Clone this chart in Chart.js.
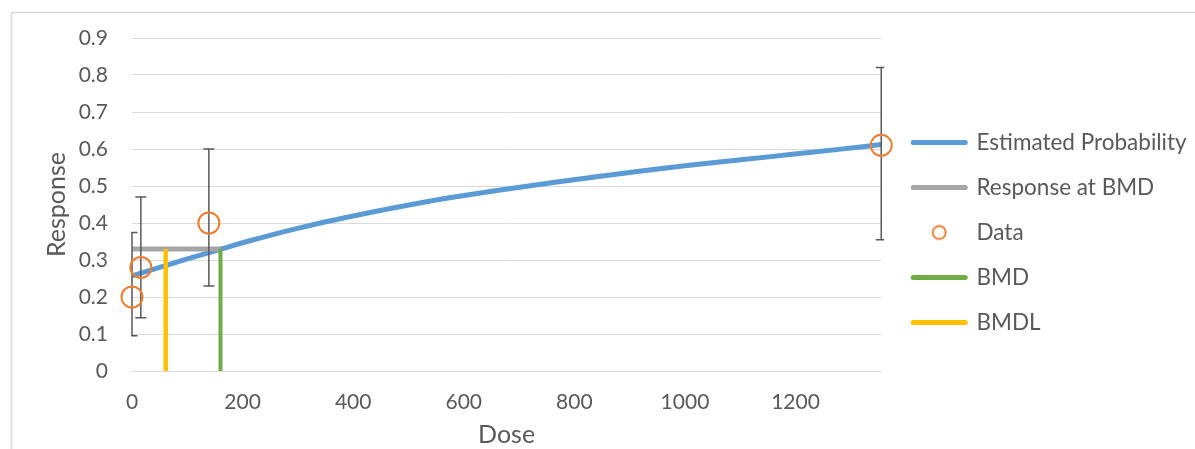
<!DOCTYPE html>
<html>
<head>
<meta charset="utf-8">
<script src="https://cdn.jsdelivr.net/npm/chart.js@4.4.1/dist/chart.umd.min.js"></script>
<style>
  html, body { margin: 0; padding: 0; background: #ffffff; }
  #wrap { position: relative; width: 1195px; height: 449px; }
</style>
</head>
<body>
<div id="wrap"><canvas id="c" width="1195" height="449"></canvas></div>
<script>
// ---- data ----
const curveDose = [0, 50, 100, 160, 213, 303, 400, 484, 574, 660, 755, 850, 917, 1000, 1097, 1190, 1278, 1355];
const curveProb = [0.257, 0.280, 0.303, 0.329, 0.352, 0.387, 0.419, 0.444, 0.468, 0.488, 0.508, 0.527, 0.540, 0.555, 0.570, 0.585, 0.599, 0.612];
const dataDose = [0, 16, 139, 1355];
const dataResp = [0.2, 0.28, 0.4, 0.61];
const errLow = [0.095, 0.144, 0.23, 0.355];
const errHigh = [0.374, 0.47, 0.6, 0.82];
const bmdDose = 160;
const bmdlDose = 61;
const bmdResp = 0.33;
const xTickValues = [0, 200, 400, 600, 800, 1000, 1200];
const yTickValues = [0, 0.1, 0.2, 0.3, 0.4, 0.5, 0.6, 0.7, 0.8, 0.9];
const seriesNames = ['Estimated Probability', 'Response at BMD', 'Data', 'BMD', 'BMDL'];

const FONT = 'Lato';
const TEXT = '#595959';

const curvePts = curveDose.map((d, i) => ({x: d, y: curveProb[i]}));
const dataPts = dataDose.map((d, i) => ({x: d, y: dataResp[i]}));

const circleImg = (function(){
  const cv = document.createElement('canvas');
  cv.width = 20; cv.height = 20;
  const g = cv.getContext('2d');
  g.strokeStyle = '#ED7D31'; g.lineWidth = 2;
  g.beginPath(); g.arc(10, 10, 6.5, 0, Math.PI * 2); g.stroke();
  return cv;
})();

const frame = {
  id: 'frame',
  beforeDraw(chart) {
    const ctx = chart.ctx;
    ctx.save();
    ctx.strokeStyle = '#d9d9d9';
    ctx.lineWidth = 1.5;
    ctx.beginPath();
    ctx.moveTo(11.5, 449); ctx.lineTo(11.5, 12.5); ctx.lineTo(1195, 12.5);
    ctx.stroke();
    ctx.restore();
  }
};

const errorBars = {
  id: 'errorBars',
  beforeDatasetDraw(chart, args) {
    if (args.index !== 2) return;
    const ctx = chart.ctx, xs = chart.scales.x, ys = chart.scales.y, a = chart.chartArea;
    ctx.save();
    ctx.beginPath();
    ctx.rect(a.left - 1, 0, a.right - a.left + 4, chart.height);
    ctx.clip();
    ctx.strokeStyle = '#595959';
    ctx.lineWidth = 1.5;
    dataDose.forEach((d, i) => {
      const px = xs.getPixelForValue(d);
      const lo = ys.getPixelForValue(errLow[i]);
      const hi = ys.getPixelForValue(errHigh[i]);
      ctx.beginPath();
      ctx.moveTo(px, lo); ctx.lineTo(px, hi);
      ctx.moveTo(px - 5.5, lo); ctx.lineTo(px + 5.5, lo);
      ctx.moveTo(px - 5.5, hi); ctx.lineTo(px + 5.5, hi);
      ctx.stroke();
    });
    ctx.restore();
  }
};

const legendShift = {
  id: 'legendShift',
  afterLayout(chart) {
    const lg = chart.legend;
    if (!lg) return;
    lg.left = chart.chartArea.right + 32 - lg.options.labels.padding;
    lg.right = chart.width;
    const dy = -11;
    lg.top += dy; lg.bottom += dy;
  }
};

new Chart(document.getElementById('c'), {
  type: 'scatter',
  data: {
    datasets: [
      { label: seriesNames[0], data: curvePts, showLine: true, borderColor: '#5B9BD5', backgroundColor: '#5B9BD5', borderWidth: 5, pointRadius: 0, tension: 0.4, cubicInterpolationMode: 'monotone', order: 5 },
      { label: seriesNames[1], data: [{x: 0, y: bmdResp}, {x: bmdDose, y: bmdResp}], showLine: true, borderColor: '#A5A5A5', backgroundColor: '#A5A5A5', borderWidth: 5, pointRadius: 0, order: 4 },
      { label: seriesNames[2], data: dataPts, showLine: false, borderColor: '#ED7D31', backgroundColor: 'rgba(0,0,0,0)', pointRadius: 10.5, pointBorderWidth: 2, borderWidth: 2, clip: false, order: 3 },
      { label: seriesNames[3], data: [{x: bmdDose, y: 0}, {x: bmdDose, y: bmdResp}], showLine: true, borderColor: '#70AD47', backgroundColor: '#70AD47', borderWidth: 4, pointRadius: 0, order: 2 },
      { label: seriesNames[4], data: [{x: bmdlDose, y: 0}, {x: bmdlDose, y: bmdResp}], showLine: true, borderColor: '#FFC000', backgroundColor: '#FFC000', borderWidth: 4.5, pointRadius: 0, order: 1 }
    ]
  },
  options: {
    responsive: false,
    animation: false,
    events: [],
    layout: { padding: { left: 0, top: 38, right: 20, bottom: 0 } },
    scales: {
      x: {
        type: 'linear', min: 0, max: 1355,
        afterBuildTicks(s) { s.ticks = xTickValues.map(v => ({value: v})); },
        afterFit(s) { s.height = 78; },
        grid: { display: false, drawTicks: false },
        border: { display: true, color: '#d9d9d9', width: 1 },
        ticks: { padding: 21, color: TEXT, font: { family: FONT, size: 21, lineHeight: 1 }, maxRotation: 0, autoSkip: false, callback: v => String(v) },
        title: { display: true, text: 'Dose', color: TEXT, font: { family: FONT, size: 25, lineHeight: 1 }, padding: { top: 7, bottom: 1.5 } }
      },
      y: {
        type: 'linear', min: 0, max: 0.9,
        afterBuildTicks(s) { s.ticks = yTickValues.map(v => ({value: v})); },
        afterFit(s) { s.width = 132; },
        grid: { color: '#d9d9d9', lineWidth: 1, drawTicks: false },
        border: { display: false },
        ticks: { padding: 24, color: TEXT, font: { family: FONT, size: 21, lineHeight: 1 }, callback: v => String(Math.round(v * 10) / 10) },
        title: { display: true, text: 'Response', color: TEXT, font: { family: FONT, size: 25, lineHeight: 1 }, padding: { top: 44, bottom: 0 } }
      }
    },
    plugins: {
      tooltip: { enabled: false },
      legend: {
        display: true,
        position: 'right',
        labels: {
          color: TEXT,
          font: { family: FONT, size: 22.5 },
          usePointStyle: true,
          pointStyleWidth: 52,
          padding: 22.5,
          sort: (a, b) => a.datasetIndex - b.datasetIndex,
          generateLabels(chart) {
            const items = Chart.defaults.plugins.legend.labels.generateLabels(chart);
            items.forEach(it => {
              const ds = chart.data.datasets[it.datasetIndex];
              if (it.datasetIndex === 2) {
                it.pointStyle = circleImg;
              } else {
                it.pointStyle = 'line';
                it.lineCap = 'round';
                it.lineWidth = 5;
                it.strokeStyle = ds.borderColor;
              }
            });
            return items;
          }
        }
      }
    }
  },
  plugins: [frame, errorBars, legendShift]
});
</script>
</body>
</html>
